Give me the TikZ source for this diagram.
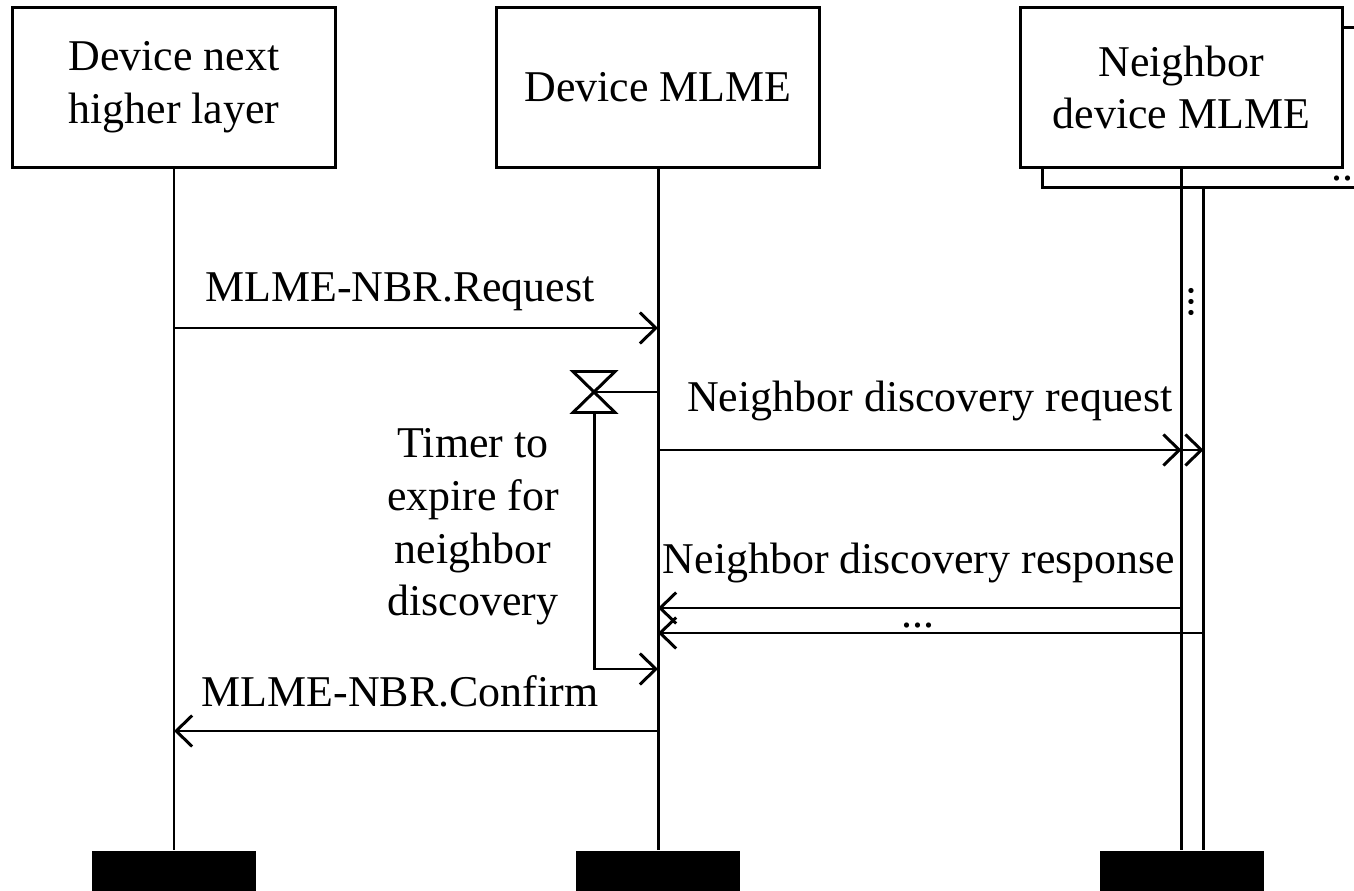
\documentclass[tikz,border=0pt]{standalone}
\usepackage{fontspec}
\setmainfont{Liberation Serif}
\usetikzlibrary{arrows.meta}
\tikzset{
  lane/.style={draw, fill=white, minimum width=6.46cm, minimum height=3.22cm, align=center, inner sep=0pt},
  foot/.style={fill=black, minimum width=3.28cm, minimum height=0.8cm, inner sep=0pt},
  msg/.style={-{Straight Barb[length=0.32cm,width=0.62cm]}}
}
\begin{document}
\begin{tikzpicture}[x=0.02cm, y=-0.02cm, line width=1.7pt, font=\fontsize{25}{30}\selectfont]
      \useasboundingbox (0,0) rectangle (1354,891);
      \node[lane] (nbrb) at (1203.5,107.5) {};
      \node[lane] (nbr) at (1181.5,87.5) {Neighbor\\device MLME};
      \node[lane] (nhl) at (174,87.5) {Device next\\higher layer};
      \node[lane] (mlme) at (658,87.5) {Device MLME};
      \node[anchor=base west, inner sep=0pt] (more) at (1330,181) {...};
      \node[foot] (nhlend) at (174,871) {};
      \node[foot] (mlmeend) at (658,871) {};
      \node[foot] (nbrend) at (1181.5,871) {};
      \coordinate (req) at (0,328);
      \coordinate (tmr) at (0,392);
      \coordinate (ndr) at (0,450);
      \coordinate (rsp) at (0,608);
      \coordinate (rsp2) at (0,633);
      \coordinate (exp) at (0,669);
      \coordinate (cnf) at (0,731);
      \coordinate (timer) at (594,392);
      \coordinate (timerb) at (594,413);
      \begin{scope}[-]
        \draw (nhl) to (nhlend);
        \draw (mlme) to (mlmeend);
        \draw (nbr) to (nbrend);
        \draw (nbrb.south) to (nbrb.south |- nbrend.north);
        \draw (timer) ++(-21,-20.5) -- ++(42,0) -- ++(-42,41) -- ++(42,0) -- cycle;
        \draw (mlme |- tmr) to (timer);
      \end{scope}
      \begin{scope}[msg]
        \draw (nhl |- req) to (mlme |- req);
        \draw (mlme |- ndr) to (nbr |- ndr);
        \draw (nbr |- ndr) to (nbrb |- ndr);
        \draw (nbr |- rsp) to (mlme |- rsp);
        \draw (nbrb |- rsp2) to (mlme |- rsp2);
        \draw (timerb) |- (mlme |- exp);
        \draw (mlme |- cnf) to (nhl |- cnf);
      \end{scope}
      \node (reqlbl) at (400,292) {MLME-NBR.Request};
      \node (ndrlbl) at (930,401) {Neighbor discovery request};
      \node (rsplbl) at (919,563) {Neighbor discovery response};
      \node[anchor=base, inner sep=0pt] (rsp2lbl) at (918,627) {...};
      \node (cnflbl) at (400,691) {MLME-NBR.Confirm};
      \node[align=center] (tmrlbl) at (473,527) {Timer to\\expire for\\neighbor\\discovery};
      \node[rotate=-90, inner sep=0pt] (vdots) at (1191,302) {...};
    \end{tikzpicture}
\end{document}
